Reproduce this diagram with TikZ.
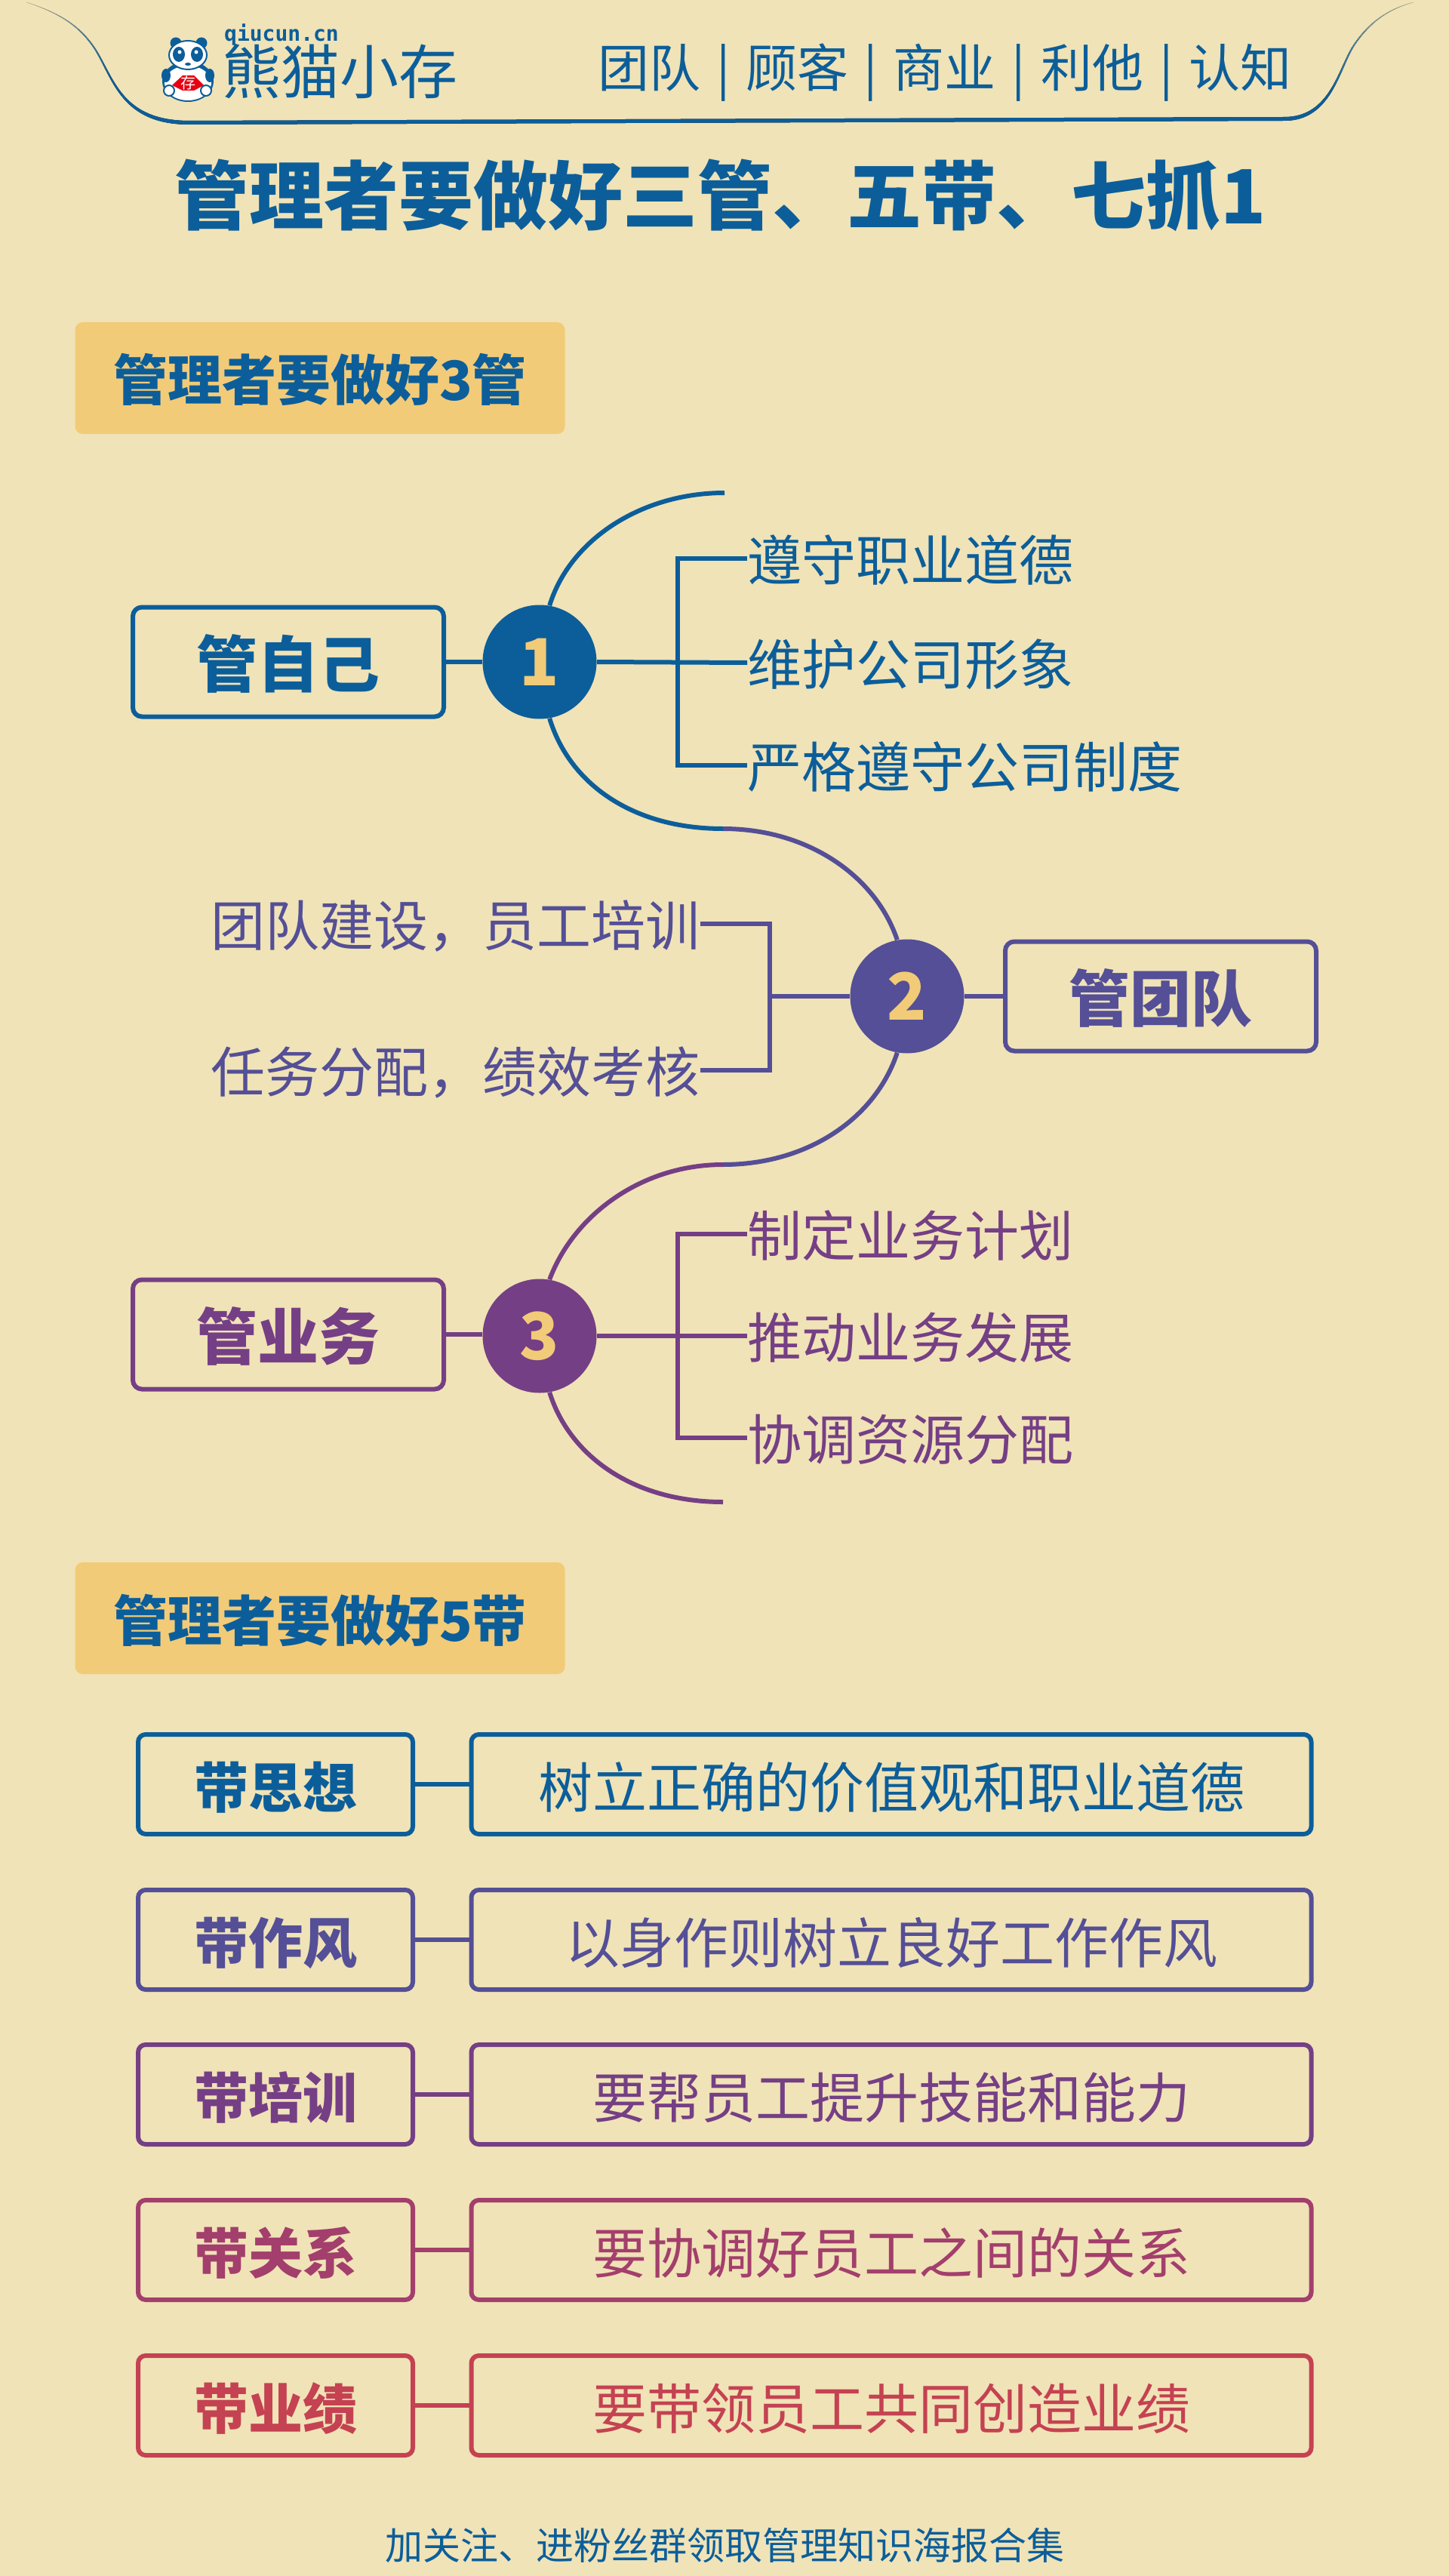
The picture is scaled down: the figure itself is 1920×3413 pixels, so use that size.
\documentclass[tikz,border=0pt]{standalone}
\usepackage{fontspec}
\setmainfont{Noto Sans CJK SC}
\newfontfamily\logofont{DejaVu Sans Mono}
\usetikzlibrary{shapes.geometric}

\definecolor{pagebg}{HTML}{F0E3B7}
\definecolor{taggold}{HTML}{F2CB78}
\definecolor{mainblue}{HTML}{0C5E9A}
\definecolor{mainviolet}{HTML}{544F96}
\definecolor{mainpurple}{HTML}{753F85}
\definecolor{mainrose}{HTML}{A33F6C}
\definecolor{mainred}{HTML}{C44252}
\definecolor{logored}{HTML}{E60012}

\pgfdeclarehorizontalshading{headfade}{100bp}{color(0bp)=(pagebg); color(25bp)=(pagebg); color(28bp)=(mainblue); color(72bp)=(mainblue); color(75bp)=(pagebg); color(100bp)=(pagebg)}

\tikzset{
    tagbox/.style={fill=taggold, rounded corners=5pt, minimum width=324.5pt, minimum height=74pt, inner sep=0pt, text=mainblue, text height=34pt, text depth=4pt, font=\fontsize{36pt}{44pt}\selectfont\bfseries},
    rootbox/.style={draw=#1, text=#1, line width=3pt, rounded corners=6pt, minimum width=206pt, minimum height=72.5pt, inner sep=0pt, text height=37pt, text depth=4pt, font=\fontsize{40.5pt}{50pt}\selectfont\bfseries},
    numdot/.style={circle, fill=#1, text=taggold, minimum size=75.5pt, inner sep=0pt, text height=31.5pt, text depth=0pt, font=\fontsize{43pt}{50pt}\selectfont\bfseries},
    leaf/.style={text=#1, inner sep=0pt, text height=33.7pt, text depth=4.3pt, font=\fontsize{36pt}{44pt}\selectfont},
    bandbox/.style={draw=#1, text=#1, line width=3pt, rounded corners=5pt, minimum width=182pt, minimum height=66pt, inner sep=0pt, text height=35.7pt, text depth=4.3pt, font=\fontsize{36pt}{44pt}\selectfont\bfseries},
    notebox/.style={draw=#1, text=#1, line width=3pt, rounded corners=5pt, minimum width=556.5pt, minimum height=66pt, inner sep=0pt, text height=35.7pt, text depth=4.3pt, font=\fontsize{36pt}{44pt}\selectfont},
    link/.style={draw=#1, line width=3pt}
}

\begin{document}
\begin{tikzpicture}[x=0.5pt, y=-0.5pt]
    \path[use as bounding box, fill=pagebg] (0,0) rectangle (1920,3413);

    % head band
    \fill[shading=headfade] (35,3) .. controls (80,18) and (105,35) .. (125,65) .. controls (150,105) and (160,165) .. (251,165) -- (1702,160) .. controls (1765,160) and (1775,90) .. (1795,60) .. controls (1815,30) and (1840,12) .. (1873,3) .. controls (1838,12) and (1813,30) .. (1793,60) .. controls (1773,90) and (1763,155) .. (1702,155) -- (251,160) .. controls (162,160) and (152,105) .. (127,65) .. controls (107,35) and (82,18) .. (35,3) -- cycle;

    % panda
    \fill[mainblue] (233,57) circle (7.5) (267,57) circle (7.5);
    \fill[mainblue] (249,108) ellipse (34 and 27);
    \fill[white] (249,110) ellipse (31 and 23);
    \fill[mainblue] (220,100) ellipse (6 and 9) (278,100) ellipse (6 and 9);
    \fill[white, draw=mainblue, line width=1pt] (249,73) ellipse (25 and 19);
    \fill[mainblue] (237,72) ellipse (8 and 10) (261,72) ellipse (8 and 10);
    \fill[white] (238,69) circle (2.5) (260,69) circle (2.5);
    \fill[mainblue] (249,85) ellipse (4 and 2);
    \fill[logored] (228,113) -- (242,100) -- (257,100) -- (270,113) -- (257,120) -- (242,120) -- cycle;
    \node[text=white, inner sep=0pt, font=\fontsize{10pt}{12pt}\selectfont] (pandatag) at (249,110) {存};
    \fill[white, draw=mainblue, line width=1pt] (224,120) circle (7) (273,120) circle (7);

    \node[text=mainblue, inner sep=0pt, font=\logofont\fontsize{14pt}{16pt}\selectfont\bfseries] (logourl) at (373,46) {qiucun.cn};
    \node[text=mainblue, inner sep=0pt, font=\fontsize{39pt}{44pt}\selectfont] (logoname) at (450,95) {熊猫小存};
    \node[text=mainblue, inner sep=0pt, text height=30pt, text depth=4pt, font=\fontsize{34pt}{40pt}\selectfont] (menu) at (1252,90) {团队\hspace{10.3pt}|\hspace{10.3pt}顾客\hspace{10.3pt}|\hspace{10.3pt}商业\hspace{10.3pt}|\hspace{10.3pt}利他\hspace{10.3pt}|\hspace{10.3pt}认知};

    \node[text=mainblue, inner sep=0pt, font=\fontsize{49.5pt}{60pt}\selectfont\bfseries] (title) at (955,259) {管理者要做好三管、五带、七抓1};

    \node[tagbox] (tag1) at (424,501) {管理者要做好3管};

    % first map
    \node[rootbox=mainblue] (root1) at (382,877) {管自己};
    \node[numdot=mainblue] (num1) at (715,877) {1};
    \node[leaf=mainblue, anchor=west] (leaf11) at (990,740) {遵守职业道德};
    \node[leaf=mainblue, anchor=west] (leaf12) at (990,878) {维护公司形象};
    \node[leaf=mainblue, anchor=west] (leaf13) at (990,1014) {严格遵守公司制度};

    \node[rootbox=mainviolet] (root2) at (1538,1320) {管团队};
    \node[numdot=mainviolet] (num2) at (1202,1320) {2};
    \node[leaf=mainviolet, anchor=east] (leaf21) at (928,1224) {团队建设，员工培训};
    \node[leaf=mainviolet, anchor=east] (leaf22) at (928,1418) {任务分配，绩效考核};

    \node[rootbox=mainpurple] (root3) at (382,1768) {管业务};
    \node[numdot=mainpurple] (num3) at (715,1770) {3};
    \node[leaf=mainpurple, anchor=west] (leaf31) at (990,1635) {制定业务计划};
    \node[leaf=mainpurple, anchor=west] (leaf32) at (990,1770) {推动业务发展};
    \node[leaf=mainpurple, anchor=west] (leaf33) at (990,1905) {协调资源分配};

    \coordinate (top1) at (960,653);
    \coordinate (join1) at (958,1098);
    \coordinate (join2) at (958,1543);
    \coordinate (bot3) at (958,1990);
    \coordinate (fork1) at (898,878);
    \coordinate (fork2) at (1020,1320);
    \coordinate (fork3) at (898,1770);

    \draw[link=mainblue] (num1.80) .. controls (755,715) and (850,653) .. (top1);
    \draw[link=mainblue] (num1.-80) .. controls (755,1040) and (840,1098) .. (join1);
    \draw[link=mainblue] (root1.east) -- (num1.west);
    \draw[link=mainblue] (num1.east) -- (leaf12.west);
    \draw[link=mainblue] (leaf11.west) -| (fork1);
    \draw[link=mainblue] (leaf13.west) -| (fork1);

    \draw[link=mainviolet] (join1) .. controls (1070,1098) and (1160,1160) .. (num2.100);
    \draw[link=mainviolet] (num2.-100) .. controls (1160,1482) and (1070,1543) .. (join2);
    \draw[link=mainviolet] (root2.west) -- (num2.east);
    \draw[link=mainviolet] (num2.west) -- (fork2);
    \draw[link=mainviolet] (leaf21.east) -| (fork2);
    \draw[link=mainviolet] (leaf22.east) -| (fork2);

    \draw[link=mainpurple] (join2) .. controls (850,1543) and (760,1610) .. (num3.80);
    \draw[link=mainpurple] (num3.-80) .. controls (755,1930) and (840,1990) .. (bot3);
    \draw[link=mainpurple] (root3.east) -- (num3.west |- root3.east);
    \draw[link=mainpurple] (num3.east) -- (leaf32.west);
    \draw[link=mainpurple] (leaf31.west) -| (fork3);
    \draw[link=mainpurple] (leaf33.west) -| (fork3);

    \node[tagbox] (tag2) at (424,2144) {管理者要做好5带};

    % band rows
    \node[bandbox=mainblue] (band1) at (365,2364) {带思想};
    \node[notebox=mainblue] (note1) at (1181,2364) {树立正确的价值观和职业道德};
    \draw[link=mainblue] (band1.east) -- (note1.west);

    \node[bandbox=mainviolet] (band2) at (365,2570) {带作风};
    \node[notebox=mainviolet] (note2) at (1181,2570) {以身作则树立良好工作作风};
    \draw[link=mainviolet] (band2.east) -- (note2.west);

    \node[bandbox=mainpurple] (band3) at (365,2775) {带培训};
    \node[notebox=mainpurple] (note3) at (1181,2775) {要帮员工提升技能和能力};
    \draw[link=mainpurple] (band3.east) -- (note3.west);

    \node[bandbox=mainrose] (band4) at (365,2981) {带关系};
    \node[notebox=mainrose] (note4) at (1181,2981) {要协调好员工之间的关系};
    \draw[link=mainrose] (band4.east) -- (note4.west);

    \node[bandbox=mainred] (band5) at (365,3187) {带业绩};
    \node[notebox=mainred] (note5) at (1181,3187) {要带领员工共同创造业绩};
    \draw[link=mainred] (band5.east) -- (note5.west);

    \node[text=mainblue, inner sep=0pt, font=\fontsize{25pt}{30pt}\selectfont] (footer) at (960,3372) {加关注、进粉丝群领取管理知识海报合集};
\end{tikzpicture}
\end{document}
